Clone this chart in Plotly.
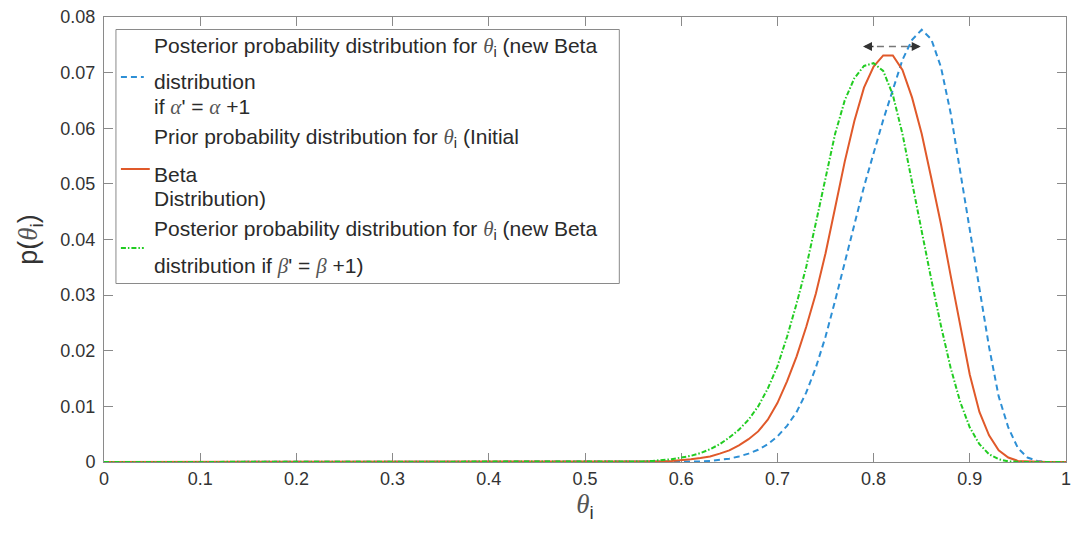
import plotly.graph_objects as go

# theta grid (0 .. 1, step 0.01)
theta = [round(0.01 * k, 2) for k in range(101)]

# Posterior if alpha' = alpha + 1 (blue, dashed)
posterior_alpha = [
    0.0, 0.0, 0.0, 0.0, 0.0, 0.0, 0.0, 0.0, 0.0, 0.0,          # 0.00-0.09
    0.0, 0.0, 0.0, 0.0, 0.0, 0.0, 0.0, 0.0, 0.0, 0.0,          # 0.10-0.19
    0.0, 0.0, 0.0, 0.0, 0.0, 0.0, 0.0, 0.0, 0.0, 0.0,          # 0.20-0.29
    0.0, 0.0, 0.0, 0.0, 0.0, 0.0, 0.0, 0.0, 0.0, 0.0,          # 0.30-0.39
    0.0, 0.0, 0.0, 0.0, 0.0, 0.0, 0.0, 0.0, 0.0, 0.0,          # 0.40-0.49
    0.0, 0.0, 0.0, 0.0, 0.0, 0.0, 0.0, 0.0, 0.0, 0.0,          # 0.50-0.59
    0.0, 0.0001, 0.0001, 0.0002, 0.0004, 0.0006, 0.0010, 0.0015, 0.0022, 0.0032,   # 0.60-0.69
    0.0046, 0.0065, 0.0090, 0.0125, 0.0170, 0.0225, 0.0290, 0.0360, 0.0430, 0.0495,  # 0.70-0.79
    0.0555, 0.0615, 0.0669, 0.0723, 0.0759, 0.0777, 0.0760, 0.0710, 0.0628, 0.0522,  # 0.80-0.89
    0.0415, 0.0308, 0.0207, 0.0118, 0.0062, 0.0025, 0.0008, 0.0002, 0.0, 0.0,        # 0.90-0.99
    0.0,                                                                             # 1.00
]

# Prior (orange, solid)
prior = [
    0.0, 0.0, 0.0, 0.0, 0.0, 0.0, 0.0, 0.0, 0.0, 0.0,
    0.0, 0.0, 0.0, 0.0, 0.0, 0.0, 0.0, 0.0, 0.0, 0.0,
    0.0, 0.0, 0.0, 0.0, 0.0, 0.0, 0.0, 0.0, 0.0, 0.0,
    0.0, 0.0, 0.0, 0.0, 0.0, 0.0, 0.0, 0.0, 0.0, 0.0,
    0.0, 0.0, 0.0, 0.0, 0.0, 0.0, 0.0, 0.0, 0.0, 0.0,
    0.0, 0.0, 0.0, 0.0, 0.0, 0.0, 0.0001, 0.0001, 0.0001, 0.0002,                   # 0.50-0.59
    0.0003, 0.0005, 0.0007, 0.0010, 0.0015, 0.0021, 0.0030, 0.0041, 0.0055, 0.0076,  # 0.60-0.69
    0.0106, 0.0145, 0.0190, 0.0243, 0.0303, 0.0375, 0.0457, 0.0540, 0.0613, 0.0673,  # 0.70-0.79
    0.0711, 0.0731, 0.0731, 0.0705, 0.0655, 0.0590, 0.0510, 0.0428, 0.0336, 0.0244,  # 0.80-0.89
    0.0157, 0.0090, 0.0048, 0.0021, 0.0008, 0.0002, 0.0001, 0.0, 0.0, 0.0,           # 0.90-0.99
    0.0,
]

# Posterior if beta' = beta + 1 (green, dash-dot)
posterior_beta = [
    0.0, 0.0, 0.0, 0.0, 0.0, 0.0, 0.0, 0.0, 0.0, 0.0,
    0.0, 0.0, 0.0, 0.0, 0.0, 0.0, 0.0, 0.0, 0.0, 0.0,
    0.0, 0.0, 0.0, 0.0, 0.0, 0.0, 0.0, 0.0, 0.0, 0.0,
    0.0, 0.0, 0.0, 0.0, 0.0, 0.0, 0.0, 0.0, 0.0, 0.0,
    0.0, 0.0, 0.0, 0.0, 0.0, 0.0, 0.0, 0.0, 0.0, 0.0,
    0.0, 0.0, 0.0, 0.0, 0.0, 0.0001, 0.0001, 0.0002, 0.0003, 0.0005,                # 0.50-0.59
    0.0008, 0.0011, 0.0016, 0.0023, 0.0032, 0.0044, 0.0058, 0.0076, 0.0100, 0.0132,  # 0.60-0.69
    0.0172, 0.0225, 0.0285, 0.0351, 0.0430, 0.0512, 0.0590, 0.0650, 0.0690, 0.0712,  # 0.70-0.79
    0.0717, 0.0703, 0.0660, 0.0590, 0.0505, 0.0415, 0.0328, 0.0245, 0.0170, 0.0108,  # 0.80-0.89
    0.0062, 0.0032, 0.0014, 0.0005, 0.0001, 0.0, 0.0, 0.0, 0.0, 0.0,                 # 0.90-0.99
    0.0,
]

x_ticks = [0, 0.1, 0.2, 0.3, 0.4, 0.5, 0.6, 0.7, 0.8, 0.9, 1]
y_ticks = [0, 0.01, 0.02, 0.03, 0.04, 0.05, 0.06, 0.07, 0.08]

BLUE = "#2d8fd5"
ORANGE = "#e0592a"
GREEN = "#22cc22"
AXIS = "#8a8a8a"
TEXT = "#2a2a2a"
SANS = "Liberation Sans, Arial, sans-serif"
SERIF = "Liberation Serif, Times New Roman, serif"

W, H = 1074, 535
L, R, T, B = 104, 3, 17, 73


def px(X):
    """pixel column -> paper x"""
    return (X - L) / (W - L - R)


def py(Y):
    """pixel row -> paper y"""
    return (H - B - Y) / (H - T - B)


def greek(ch):
    return f'<span style="font-family:{SERIF}; color:#555"><i>{ch}</i></span>'


theta_i = greek("θ") + "<sub>i</sub>"

fig = go.Figure()
fig.add_trace(go.Scatter(
    x=theta, y=posterior_alpha, mode="lines", showlegend=False,
    name="Posterior (alpha+1)",
    line=dict(color=BLUE, width=2, dash="6px,4px"),
))
fig.add_trace(go.Scatter(
    x=theta, y=prior, mode="lines", showlegend=False,
    name="Prior",
    line=dict(color=ORANGE, width=2),
))
fig.add_trace(go.Scatter(
    x=theta, y=posterior_beta, mode="lines", showlegend=False,
    name="Posterior (beta+1)",
    line=dict(color=GREEN, width=2, dash="5px,2px,1.5px,2px"),
))

# legend box
shapes = [
    dict(type="rect", xref="paper", yref="paper",
         x0=px(116), x1=px(622), y0=py(283.5), y1=py(29.5),
         line=dict(color=AXIS, width=1), fillcolor="white", layer="above"),
    dict(type="line", xref="paper", yref="paper",
         x0=px(121), x1=px(144), y0=py(77), y1=py(77),
         line=dict(color=BLUE, width=2, dash="6px,4px"), layer="above"),
    dict(type="line", xref="paper", yref="paper",
         x0=px(121), x1=px(150), y0=py(169), y1=py(169),
         line=dict(color=ORANGE, width=2), layer="above"),
    dict(type="line", xref="paper", yref="paper",
         x0=px(121), x1=px(144), y0=py(248), y1=py(248),
         line=dict(color=GREEN, width=2, dash="5px,2px,1.5px,2px"), layer="above"),
]

legend_lines = [
    (f"Posterior probability distribution for {theta_i} (new Beta", 46.7),
    ("distribution", 81.7),
    (f"if {greek('α')}' = {greek('α')} +1", 106.7),
    (f"Prior probability distribution for {theta_i} (Initial", 138.3),
    ("Beta", 174),
    ("Distribution)", 198.3),
    (f"Posterior probability distribution for {theta_i} (new Beta", 230),
    (f"distribution if {greek('β')}' = {greek('β')} +1)", 265.7),
]

annotations = []
for txt, yc in legend_lines:
    annotations.append(dict(
        text=txt, xref="paper", yref="paper", x=px(152.7), y=py(yc),
        xanchor="left", yanchor="middle", showarrow=False,
        font=dict(family=SANS, size=21, color=TEXT),
    ))

# double-headed shift arrow above the peaks
arrow_y = 0.0747
shapes.append(dict(type="line", xref="x", yref="y", x0=0.791, x1=0.847,
                   y0=arrow_y, y1=arrow_y,
                   line=dict(color="#777777", width=1.5, dash="7px,5px")))
annotations.append(dict(x=0.789, y=arrow_y, ax=12, ay=0, xref="x", yref="y",
                        showarrow=True, arrowhead=2, arrowsize=1.2, arrowwidth=1.5,
                        arrowcolor="#333333", text=""))
annotations.append(dict(x=0.849, y=arrow_y, ax=-12, ay=0, xref="x", yref="y",
                        showarrow=True, arrowhead=2, arrowsize=1.2, arrowwidth=1.5,
                        arrowcolor="#333333", text=""))

fig.update_layout(
    width=W, height=H,
    margin=dict(l=L, r=R, t=T, b=B),
    paper_bgcolor="white", plot_bgcolor="white",
    shapes=shapes, annotations=annotations,
    font=dict(family=SANS, color=TEXT),
    xaxis=dict(
        range=[0, 1], tickvals=x_ticks, ticktext=[str(v) for v in x_ticks],
        showgrid=False, zeroline=False,
        showline=True, linecolor=AXIS, linewidth=1, mirror="ticks",
        ticks="inside", ticklen=9, tickcolor=AXIS, tickwidth=1,
        tickfont=dict(family=SANS, size=18, color="#333333"),
        ticklabeloverflow="allow",
        layer="below traces",
        title=dict(text=f'<span style="font-family:{SERIF}; color:#555"><i>θ</i></span><sub>i</sub>',
                   font=dict(family=SANS, size=27, color="#333333"), standoff=6),
    ),
    yaxis=dict(
        range=[0, 0.08], tickvals=y_ticks, ticktext=[f"{v:g}" for v in y_ticks],
        showgrid=False, zeroline=False,
        showline=True, linecolor=AXIS, linewidth=1, mirror="ticks",
        ticks="inside", ticklen=9, tickcolor=AXIS, tickwidth=1,
        tickfont=dict(family=SANS, size=18, color="#333333"),
        ticklabelstandoff=4,
        layer="below traces",
        title=dict(text=f'p(<span style="font-family:{SERIF}; color:#555"><i>θ</i></span><sub>i</sub>)',
                   font=dict(family=SANS, size=27, color="#333333"), standoff=14),
    ),
)

fig.write_html("out.html")
